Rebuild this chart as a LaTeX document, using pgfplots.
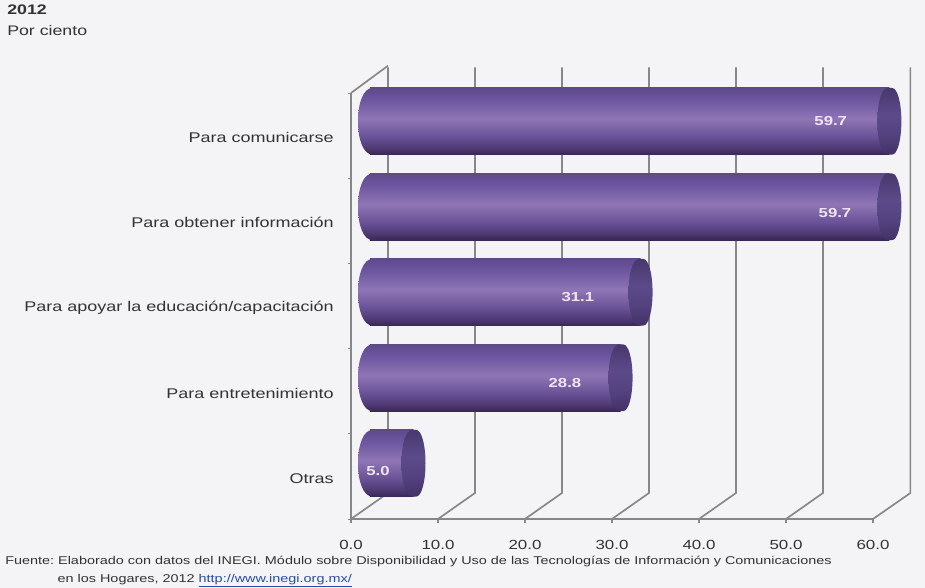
\documentclass[border=0pt]{standalone}
\usepackage{fontspec}
\setmainfont{Liberation Sans}[FakeStretch=1.28]
\frenchspacing
\usepackage{pgfplots}
\usepackage{pgfplotstable}
\pgfplotsset{compat=1.18}

\definecolor{pagebg}{HTML}{F4F4F6}
\definecolor{gridgray}{HTML}{878787}
\definecolor{linkblue}{HTML}{2A4CA8}

% Vertical tone of the cylinder surface; a path's box covers the range 25bp to 75bp
\pgfdeclareverticalshading{cylbody}{100bp}{
  rgb(0bp)=(0.22,0.15,0.34);
  rgb(25bp)=(0.22,0.15,0.34);
  rgb(29.5bp)=(0.30,0.22,0.44);
  rgb(37.5bp)=(0.40,0.31,0.58);
  rgb(52bp)=(0.56,0.46,0.71);
  rgb(66bp)=(0.43,0.34,0.63);
  rgb(75bp)=(0.37,0.29,0.54);
  rgb(100bp)=(0.37,0.29,0.54)
}
% Darker tone of the flat end of each cylinder
\pgfdeclareverticalshading{cylend}{100bp}{
  rgb(0bp)=(0.26,0.19,0.40);
  rgb(25bp)=(0.26,0.19,0.40);
  rgb(40bp)=(0.33,0.26,0.50);
  rgb(55bp)=(0.36,0.29,0.54);
  rgb(75bp)=(0.28,0.22,0.43);
  rgb(100bp)=(0.28,0.22,0.43)
}

% Rounded ends of the cylinders (half width 9pt, half height 25pt)
\pgfdeclareplotmark{leftcap}{%
  \path[draw=none, shading=cylbody]
    (9pt,25pt) -- (2pt,25pt) .. controls (-5pt,25pt) and (-9pt,14pt) .. (-9pt,0pt)
    .. controls (-9pt,-14pt) and (-5pt,-25pt) .. (2pt,-25pt) -- (9pt,-25pt) -- cycle;
}
\pgfdeclareplotmark{rightcap}{%
  \path[draw=none, shading=cylend]
    (-1pt,25pt) -- (2pt,25pt) .. controls (6pt,25pt) and (9pt,14pt) .. (9pt,0pt)
    .. controls (9pt,-14pt) and (6pt,-25pt) .. (2pt,-25pt) -- (-1pt,-25pt)
    .. controls (-6pt,-25pt) and (-9pt,-14pt) .. (-9pt,0pt)
    .. controls (-9pt,14pt) and (-6pt,25pt) .. (-1pt,25pt) -- cycle;
}

% Share of use per category; dx, dy place the value inside the bar
\pgfplotstableread{
y  value  dx      dy
4  59.7   -44     0.2
3  59.7   -40.8   -4.6
2  31.1   -47     -3.75
1  28.8   -41.7   -3.75
0  5.0    -26.6   -6
}\usesdata

\pgfplotsset{
  cylinder/.style={xbar, bar shift=0pt, bar width=50pt, draw=none, shading=cylbody},
  wall/.style={gridgray, line width=1.25pt},
}

\begin{document}
\begin{tikzpicture}
\useasboundingbox (0pt,0pt) rectangle (693.75pt,441pt);
\fill[pagebg] (0pt,0pt) rectangle (693.75pt,441pt);

% Frame of the chart: front edges, tick labels and the walls behind the bars
\begin{axis}[
  name=frame,
  at={(263.25pt,51.75pt)}, anchor=south west,
  scale only axis, width=391.5pt, height=319.5pt,
  xmin=0, xmax=60, ymin=-0.5, ymax=4.5,
  clip=false,
  axis x line*=bottom, axis y line*=left,
  axis line style={draw=gridgray, line width=1.4pt, -},
  xtick={0,10,...,60},
  /pgf/number format/fixed, /pgf/number format/fixed zerofill, /pgf/number format/precision=1,
  /pgf/number format/assume math mode=true,
  xticklabel style={font=\fontsize{9.9}{12}\selectfont, yshift=-9.5pt, text=black!80},
  ytick={0,1,2,3,4},
  yticklabels={Otras, Para entretenimiento, Para apoyar la educación/capacitación, Para obtener información, Para comunicarse},
  yticklabel style={font=\fontsize{10.55}{12}\selectfont, xshift=-6.5pt, yshift=-1.5pt, text=black!80},
  minor ytick={-0.5,0.5,...,4.5},
  major y tick style={draw=none},
  minor y tick style={draw=gridgray, line width=0.6pt},
  minor tick length=2.5pt,
  x tick style={draw=gridgray, line width=0.9pt},
  major tick length=3pt,
  tick align=outside,
]
  \addplot[wall] coordinates {(0,-0.5) (4.25,-0.195) (4.25,4.8)};
  \addplot[wall] coordinates {(10,-0.5) (14.25,-0.195) (14.25,4.8)};
  \addplot[wall] coordinates {(20,-0.5) (24.25,-0.195) (24.25,4.8)};
  \addplot[wall] coordinates {(30,-0.5) (34.25,-0.195) (34.25,4.8)};
  \addplot[wall] coordinates {(40,-0.5) (44.25,-0.195) (44.25,4.8)};
  \addplot[wall] coordinates {(50,-0.5) (54.25,-0.195) (54.25,4.8)};
  \addplot[wall] coordinates {(60,-0.5) (64.3,-0.195) (64.3,4.8)};
  \addplot[wall] coordinates {(0,4.5) (4.25,4.82)};
\end{axis}

% The cylinders sit on a plane set back from the front edge
\begin{axis}[
  at={(277.5pt,61.5pt)}, anchor=south west,
  scale only axis, width=391.5pt, height=320.6pt,
  xmin=0, xmax=60, ymin=-0.5, ymax=4.5,
  clip=false, hide axis,
]
  \addplot[only marks, mark=leftcap] coordinates {(0,4) (0,3) (0,2) (0,1) (0,0)};
  % One plot per bar, so that the shading spans a single cylinder
  \addplot[cylinder] coordinates {(59.7,4)};
  \addplot[cylinder] coordinates {(59.7,3)};
  \addplot[cylinder] coordinates {(31.1,2)};
  \addplot[cylinder] coordinates {(28.8,1)};
  \addplot[cylinder] coordinates {(5.0,0)};
  \addplot[only marks, mark=rightcap,
    visualization depends on={\thisrow{dx} \as \labeldx},
    visualization depends on={\thisrow{dy} \as \labeldy},
    point meta=x,
    nodes near coords={\pgfmathprintnumber[fixed, fixed zerofill, precision=1, assume math mode=true]{\pgfplotspointmeta}},
    every node near coord/.append style={
      anchor=center, text=white!90!violet,
      font=\fontsize{9.8}{12}\selectfont\bfseries,
      xshift=\labeldx pt, yshift=\labeldy pt},
  ] table[x=value, y=y] {\usesdata};
\end{axis}

% Heading and source note
\node[anchor=west, inner sep=0pt, font=\fontsize{10.4}{12}\selectfont\bfseries, text=black!80] at (5.25pt,433.5pt) {2012};
\node[anchor=west, inner sep=0pt, font=\fontsize{10.4}{12}\selectfont, text=black!80] at (5.25pt,417.75pt) {Por ciento};
\node[anchor=west, inner sep=0pt, font=\fontsize{8.45}{10}\selectfont, text=black!80] at (3.75pt,19.5pt)
  {Fuente: Elaborado con datos del INEGI. Módulo sobre Disponibilidad y Uso de las Tecnologías de Información y Comunicaciones};
\node[anchor=west, inner sep=0pt, font=\fontsize{8.45}{10}\selectfont, text=black!80] at (43pt,5.5pt)
  {en los Hogares, 2012 \textcolor{linkblue}{\underline{http://www.inegi.org.mx/}}};
\end{tikzpicture}
\end{document}
